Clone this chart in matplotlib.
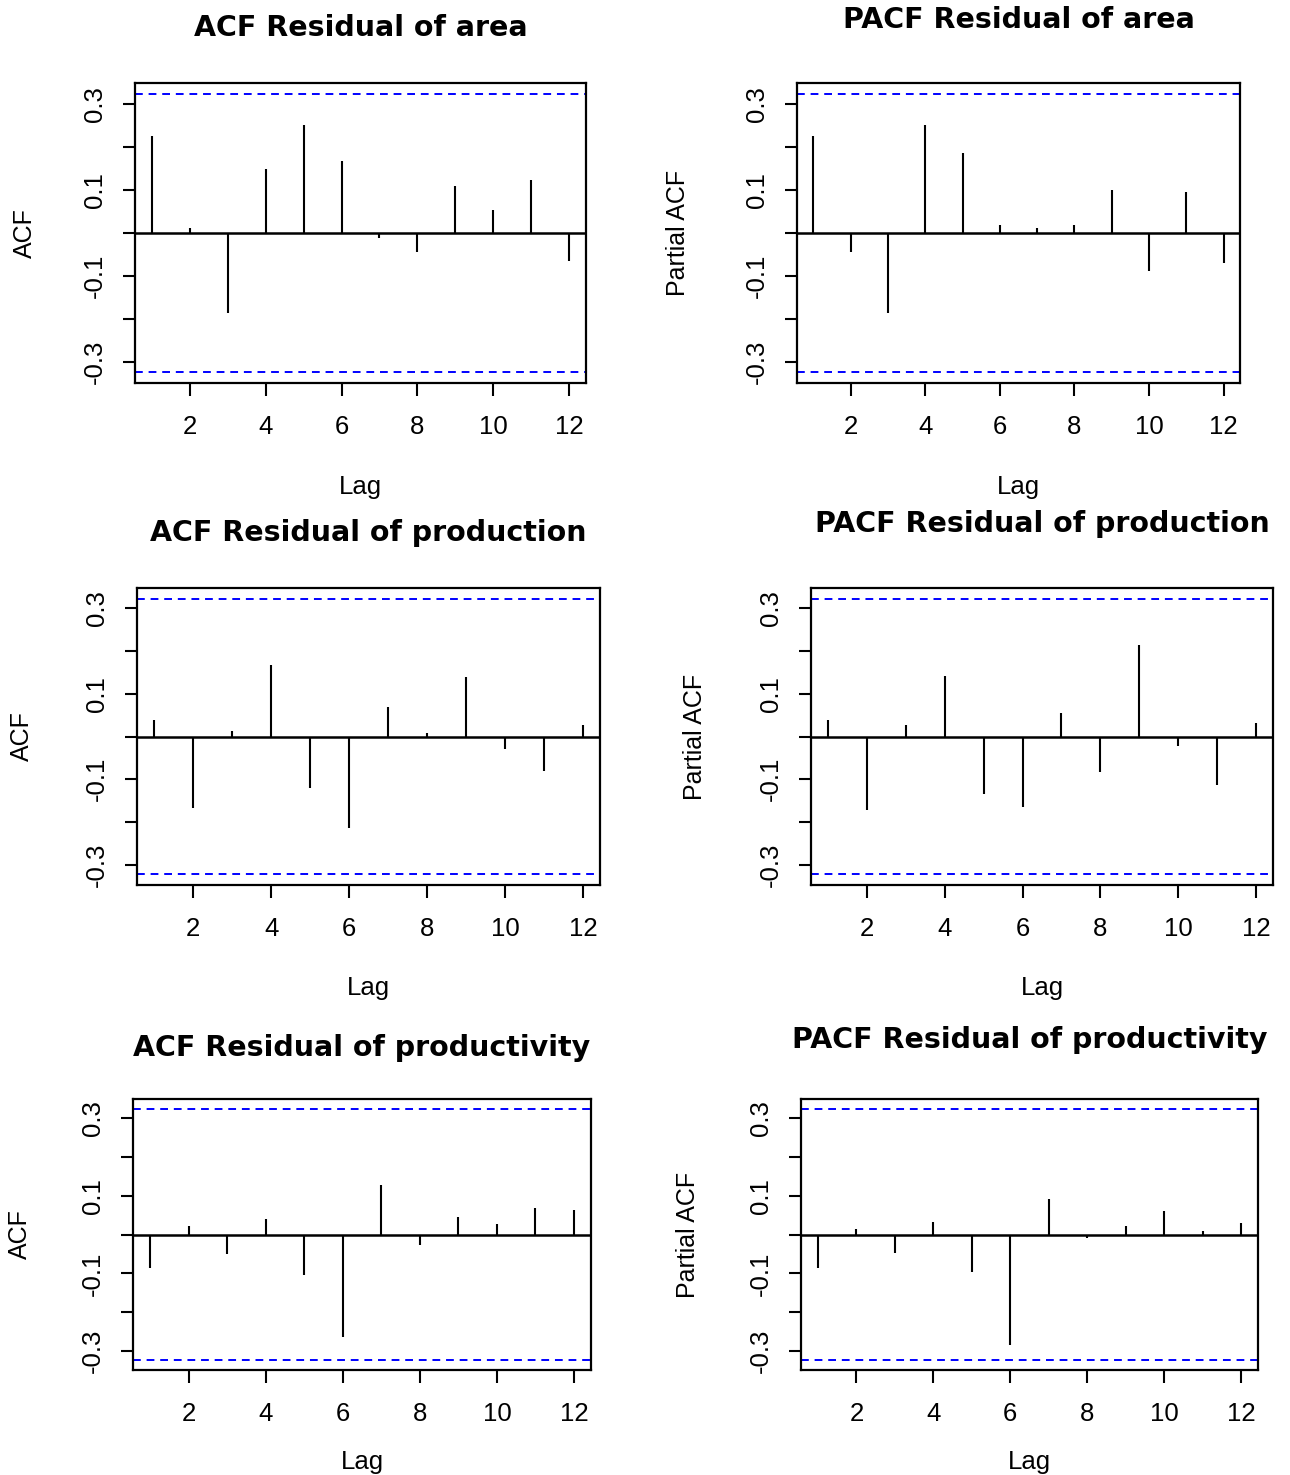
import numpy as np
import matplotlib
matplotlib.use("Agg")
import matplotlib.pyplot as plt

plt.rcParams['font.family'] = ['Liberation Sans', 'DejaVu Sans']
plt.rcParams['axes.unicode_minus'] = False

lags = np.arange(1, 13)
ci = 0.322

acf_area = [0.224, 0.012, -0.186, 0.148, 0.251, 0.168, -0.012, -0.043, 0.109, 0.053, 0.123, -0.064]
pacf_area = [0.224, -0.043, -0.186, 0.251, 0.185, 0.019, 0.012, 0.019, 0.099, -0.089, 0.095, -0.070]
acf_production = [0.039, -0.168, 0.014, 0.167, -0.120, -0.214, 0.070, 0.008, 0.139, -0.030, -0.081, 0.028]
pacf_production = [0.038, -0.172, 0.027, 0.142, -0.134, -0.166, 0.056, -0.083, 0.215, -0.023, -0.113, 0.031]
acf_productivity = [-0.086, 0.021, -0.051, 0.039, -0.103, -0.262, 0.126, -0.027, 0.046, 0.028, 0.067, 0.063]
pacf_productivity = [-0.086, 0.015, -0.048, 0.032, -0.096, -0.283, 0.091, -0.009, 0.021, 0.060, 0.009, 0.029]

titles = ["ACF Residual of area", "PACF Residual of area",
          "ACF Residual of production", "PACF Residual of production",
          "ACF Residual of productivity", "PACF Residual of productivity"]
ylabels = ["ACF", "Partial ACF"] * 3
series = [acf_area, pacf_area, acf_production, pacf_production, acf_productivity, pacf_productivity]

W, H = 1290, 1475
fig = plt.figure(figsize=(W / 100, H / 100), dpi=100)

# pixel boxes: left, right, top, bottom
boxes = [(135, 586, 83, 383), (797, 1240, 83, 383),
         (137, 600, 588, 885), (811, 1273, 588, 885),
         (133, 591, 1099, 1370), (801, 1258, 1099, 1370)]
title_y = [28, 20, 533, 524, 1048, 1040]
lag_y = [487, 487, 988, 988, 1462, 1462]
ylab_x = [25, 678, 22, 695, 20, 688]

for i in range(6):
    l, r, t, b = boxes[i]
    ax = fig.add_axes([l / W, 1 - b / H, (r - l) / W, (b - t) / H])
    vals = series[i]
    ax.vlines(lags, 0, vals, color='black', lw=1.5)
    ax.axhline(0, color='black', lw=1.8)
    ax.axhline(ci, color='blue', ls=(0, (4, 3)), lw=1.4)
    ax.axhline(-ci, color='blue', ls=(0, (4, 3)), lw=1.4)
    ax.set_xlim(0.56, 12.44)
    ax.set_ylim(-0.348, 0.348)
    ax.set_xticks([2, 4, 6, 8, 10, 12])
    ax.set_yticks([-0.3, -0.2, -0.1, 0.0, 0.1, 0.2, 0.3])
    ax.set_yticklabels(['-0.3', '', '-0.1', '', '0.1', '', '0.3'], rotation=90, va='center')
    ax.tick_params(axis='both', direction='out', length=9, width=1.5, labelsize=18.5)
    ax.tick_params(axis='x', pad=14)
    ax.tick_params(axis='y', pad=11)
    for s in ax.spines.values():
        s.set_linewidth(1.6)
    cx = (l + r) / 2
    fig.text(cx / W, 1 - title_y[i] / H, titles[i], ha='center', va='center',
             fontsize=20.5, fontweight='bold', family='DejaVu Sans')
    fig.text(cx / W, 1 - lag_y[i] / H, "Lag", ha='center', va='center', fontsize=18.5)
    fig.text(ylab_x[i] / W, 1 - ((t + b) / 2) / H, ylabels[i], ha='center', va='center',
             rotation=90, fontsize=18)

fig.savefig("out.png", dpi=100, facecolor='white')
